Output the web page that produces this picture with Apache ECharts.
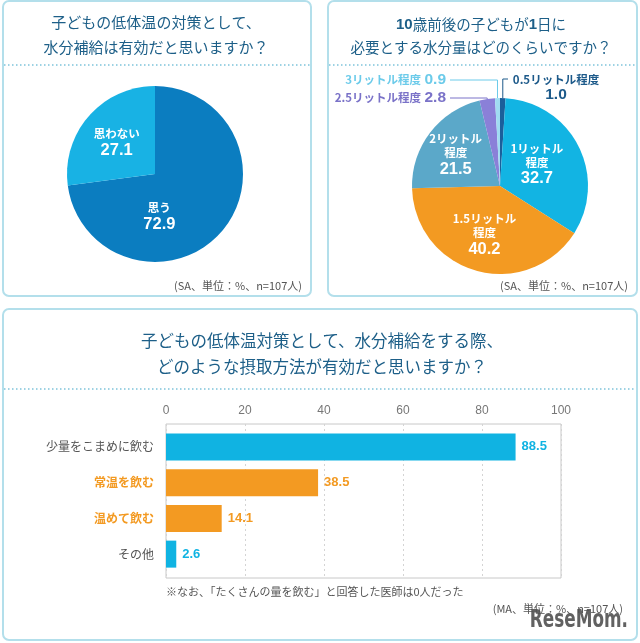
<!DOCTYPE html>
<html><head><meta charset="utf-8">
<script src="https://cdn.jsdelivr.net/npm/echarts@6/dist/echarts.min.js"></script>
<style>html,body{margin:0;padding:0;background:#fff}#c{width:640px;height:643px}</style>
</head><body><div id="c"></div>
<script>
// ---- data ----
const pie1Names = ['思う', '思わない'];
const pie1Values = [72.9, 27.1];

const pie2Names = ['0.5リットル程度', '1リットル\n程度', '1.5リットル\n程度', '2リットル\n程度', '2.5リットル程度', '3リットル程度'];
const pie2Values = [1.0, 32.7, 40.2, 21.5, 2.8, 0.9];

const barCategories = ['少量をこまめに飲む', '常温を飲む', '温めて飲む', 'その他'];
const barValues = [88.5, 38.5, 14.1, 2.6];
const xTicks = [0, 20, 40, 60, 80, 100];

// ---- styles ----
const JP = '"Noto Sans CJK JP", sans-serif';
const NUM = '"Liberation Sans", Arial, sans-serif';
const TITLE = '#1d5f88';
const pie1Colors = ['#0b7dc0', '#18b2e4'];
const pie2Colors = ['#1b5f9b', '#12b4e3', '#f39a22', '#5ba8c9', '#8a80d8', '#a0dcf2'];
const pie2LabelColors = ['#1d5a8a', '#fff', '#fff', '#fff', '#7a72c8', '#6ccbea'];
const CYAN = '#10b3e2', ORANGE = '#f39a22';
const barColors = [CYAN, ORANGE, ORANGE, CYAN];

const chart = echarts.init(document.getElementById('c'), null, {renderer: 'canvas'});

const inner = {
  n: {color: '#fff', fontSize: 11.5, fontWeight: 'bold', fontFamily: JP, lineHeight: 14},
  v: {color: '#fff', fontSize: 16.5, fontWeight: 'bold', fontFamily: NUM, lineHeight: 19}
};

const pie1Offsets = [[-31, 12], [-3, 0]];
const pie1Data = pie1Names.map((n, i) => ({
  name: n, value: pie1Values[i],
  itemStyle: {color: pie1Colors[i]},
  label: {offset: pie1Offsets[i]}
}));

const pie2Offsets = [null, [-5, 0], [-3, 4], [-7, -2], null, null];
const pie2Data = pie2Names.map((n, i) => {
  const outside = pie2Offsets[i] === null;
  const c = pie2LabelColors[i];
  const d = {name: n, value: pie2Values[i], itemStyle: {color: pie2Colors[i]}};
  if (outside) {
    d.label = {
      position: 'outside',
      formatter: p => i === 0 ? '{n|' + p.name + '}\n{v|' + p.value.toFixed(1) + '}' : '{n|' + p.name + '} {v|' + p.value.toFixed(1) + '}',
      rich: {
        n: {color: c, fontSize: 11.5, fontWeight: 'bold', fontFamily: JP, lineHeight: 14, align: 'center'},
        v: {color: c, fontSize: 15.5, fontWeight: 'bold', fontFamily: NUM, lineHeight: 16, align: 'center'}
      }
    };
    d.labelLine = {show: true, lineStyle: {color: c, width: 1}};
  } else {
    d.label = {position: 'inside', offset: pie2Offsets[i]};
    d.labelLine = {show: false};
  }
  return d;
});

const option = {
  animation: false,
  graphic: [
    {type: 'rect', z: -10, shape: {x: 3, y: 1, width: 308, height: 295, r: 6}, style: {fill: '#fff', stroke: '#b3dfeb', lineWidth: 2}},
    {type: 'rect', z: -10, shape: {x: 328, y: 1, width: 309, height: 295, r: 6}, style: {fill: '#fff', stroke: '#b3dfeb', lineWidth: 2}},
    {type: 'rect', z: -10, shape: {x: 3, y: 309, width: 634, height: 331, r: 6}, style: {fill: '#fff', stroke: '#b3dfeb', lineWidth: 2}},
    {type: 'line', z: -9, shape: {x1: 4, y1: 65, x2: 310, y2: 65}, style: {stroke: '#7ec3da', lineWidth: 1.5, lineDash: [1.5, 2.5]}},
    {type: 'line', z: -9, shape: {x1: 329, y1: 65, x2: 636, y2: 65}, style: {stroke: '#7ec3da', lineWidth: 1.5, lineDash: [1.5, 2.5]}},
    {type: 'line', z: -9, shape: {x1: 4, y1: 389, x2: 636, y2: 389}, style: {stroke: '#7ec3da', lineWidth: 1.5, lineDash: [1.5, 2.5]}},
    {type: 'text', style: {text: '子どもの低体温の対策として、\n水分補給は有効だと思いますか？', x: 156, y: 35, align: 'center', verticalAlign: 'middle', fontSize: 15, fontFamily: JP, fill: TITLE, lineHeight: 25}},
    {type: 'text', style: {text: '{b|10}歳前後の子どもが{b|1}日に\n必要とする水分量はどのくらいですか？', x: 481, y: 36, align: 'center', verticalAlign: 'middle', fontSize: 14.5, fontFamily: JP, fill: TITLE, lineHeight: 23,
      rich: {b: {fontSize: 15, fontWeight: 'bold', fontFamily: NUM, fill: TITLE, lineHeight: 23}}}},
    {type: 'text', style: {text: '子どもの低体温対策として、水分補給をする際、\nどのような摂取方法が有効だと思いますか？', x: 322, y: 354, align: 'center', verticalAlign: 'middle', fontSize: 16.5, fontFamily: JP, fill: TITLE, lineHeight: 26}},
    {type: 'text', style: {text: '(SA、単位：%、n=107人)', x: 302, y: 286, align: 'right', verticalAlign: 'middle', fontSize: 11, fontFamily: JP, fill: '#555'}},
    {type: 'text', style: {text: '(SA、単位：%、n=107人)', x: 628, y: 286, align: 'right', verticalAlign: 'middle', fontSize: 11, fontFamily: JP, fill: '#555'}},
    {type: 'text', style: {text: '※なお、「たくさんの量を飲む」と回答した医師は0人だった', x: 166, y: 592, align: 'left', verticalAlign: 'middle', fontSize: 11, fontFamily: JP, fill: '#555'}},
    {type: 'text', style: {text: '(MA、単位：%、n=107人)', x: 623, y: 609, align: 'right', verticalAlign: 'middle', fontSize: 11, fontFamily: JP, fill: '#555'}},
    {type: 'text', z: 100, x: 628, y: 621, scaleX: 0.78,
      style: {text: 'ReseMom.', x: 0, y: 0, align: 'right', verticalAlign: 'middle', fontSize: 24, fontWeight: 'bold', fontFamily: '"DejaVu Sans Condensed", sans-serif', fill: 'rgba(80,80,80,0.9)'}}
  ],
  grid: [
    {left: 166, top: 424, width: 395, height: 154, show: true, borderColor: '#c8c8c8', borderWidth: 1},
    {left: 166, top: 429, width: 395, height: 143}
  ],
  xAxis: [
    {gridIndex: 0, type: 'value', min: xTicks[0], max: xTicks[xTicks.length - 1], interval: xTicks[1] - xTicks[0], position: 'top',
      axisLine: {show: false}, axisTick: {show: false},
      splitLine: {show: true, lineStyle: {type: [2, 3], color: '#d4d4d4'}},
      axisLabel: {color: '#777', fontSize: 12, fontFamily: NUM, margin: 7}},
    {gridIndex: 1, type: 'value', min: xTicks[0], max: xTicks[xTicks.length - 1], show: false}
  ],
  yAxis: [
    {gridIndex: 0, type: 'value', show: false, splitLine: {show: false}},
    {gridIndex: 1, type: 'category', data: barCategories, inverse: true,
      axisLine: {show: false}, axisTick: {show: false},
      axisLabel: {margin: 12, formatter: (v, i) => (barColors[i] === ORANGE ? '{o|' : '{n|') + v + '}',
        rich: {n: {color: '#555', fontSize: 12, fontFamily: JP}, o: {color: ORANGE, fontSize: 12, fontWeight: 'bold', fontFamily: JP}}}}
  ],
  series: [
    {type: 'pie', center: [155, 174], radius: 88, startAngle: 90, clockwise: true,
      avoidLabelOverlap: false,
      label: {show: true, position: 'inside', formatter: '{n|{b}}\n{v|{c}}', rich: inner},
      labelLine: {show: false},
      emphasis: {disabled: true},
      data: pie1Data},
    {type: 'pie', center: [500, 186], radius: 88, startAngle: 90, clockwise: true,
      avoidLabelOverlap: false,
      label: {show: true, position: 'inside', formatter: p => '{n|' + p.name + '}\n{v|' + p.value.toFixed(1) + '}', rich: inner},
      emphasis: {disabled: true},
      labelLayout: function (p) {
        const i = p.dataIndex;
        if (pie2Offsets[i] !== null) return {};
        const pt = p.labelLinePoints ? p.labelLinePoints[0] : [500, 98];
        if (i === 0) {
          return {x: 556, y: 73, align: 'center', verticalAlign: 'top',
            labelLinePoints: [[pt[0], pt[1]], [pt[0], 79], [508, 79]]};
        }
        const ly = i === 5 ? 80 : 98;
        return {x: 446, y: ly, align: 'right', verticalAlign: 'middle',
          labelLinePoints: [[pt[0], pt[1]], [pt[0], ly], [450, ly]]};
      },
      data: pie2Data},
    {type: 'bar', xAxisIndex: 1, yAxisIndex: 1, barWidth: 27,
      data: barValues.map((v, i) => ({value: v, itemStyle: {color: barColors[i]}, label: {color: barColors[i]}})),
      label: {show: true, position: 'right', distance: 6, fontSize: 13, fontWeight: 'bold', fontFamily: NUM,
        formatter: p => p.value.toFixed(1)}}
  ]
};
chart.setOption(option);
</script></body></html>
